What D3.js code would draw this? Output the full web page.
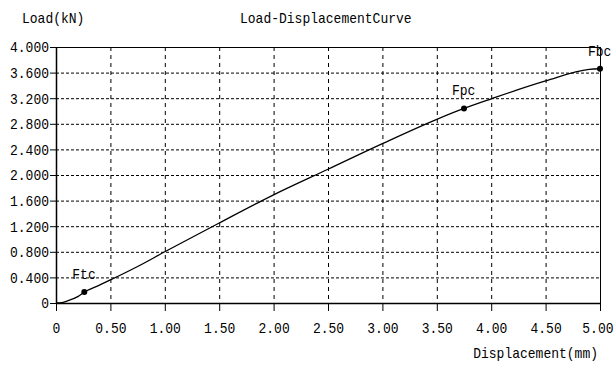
<!DOCTYPE html>
<html>
<head>
<meta charset="utf-8">
<script src="https://cdn.jsdelivr.net/npm/d3@7"></script>
<style>
  body { margin: 0; background: #fff; }
  text { font-family: 'Liberation Mono', 'DejaVu Sans Mono', monospace; fill: #000; }
</style>
</head>
<body>
<div class="chart"></div>
<script>
// values
const displacement = [0, 0.05, 0.1, 0.2, 0.26, 0.4, 0.5, 0.75, 1.0, 1.5, 2.0, 2.5, 3.0, 3.5, 3.75, 4.0, 4.5, 4.9, 5.0]
const load = [0, 0.005, 0.03, 0.1, 0.17, 0.28, 0.36, 0.57, 0.8, 1.25, 1.69, 2.09, 2.49, 2.87, 3.04, 3.19, 3.47, 3.65, 3.66]
const pointNames = ['Ftc', 'Fpc', 'Fbc']
const pointX = [0.26, 3.75, 5.0]
const pointY = [0.17, 3.04, 3.66]
const xTicks = [0, 0.5, 1, 1.5, 2, 2.5, 3, 3.5, 4, 4.5, 5]
const yTicks = [0, 0.4, 0.8, 1.2, 1.6, 2.0, 2.4, 2.8, 3.2, 3.6, 4.0]

const data = displacement.map((d, i) => ({distance: d, load: load[i]}))
const points = pointNames.map((n, i) => ({name: n, distance: pointX[i], load: pointY[i]}))

const W = 615
const H = 369
const margin = {top: 47, right: 15, bottom: 66, left: 56}
const width = W - margin.left - margin.right
const height = H - margin.top - margin.bottom
const charW = 7.8

// squeeze text so glyphs look like the narrow bitmap font
function squeeze(sel) {
  sel.each(function() {
    const t = d3.select(this)
    t.attr('textLength', t.text().length * charW).attr('lengthAdjust', 'spacingAndGlyphs')
  })
}

const x = d3.scaleLinear().domain([0, 5]).range([0, width])
const y = d3.scaleLinear().domain([0, 4]).range([height, 0])

const root = d3.select('.chart')
  .append('svg')
  .attr('width', W)
  .attr('height', H)

const svg = root.append('g')
  .attr('transform', 'translate(' + margin.left + ',' + margin.top + ')')

//dashed grid
svg.append('g')
  .selectAll('line')
  .data(yTicks.slice(1, -1))
  .enter()
  .append('line')
  .attr('x1', 0)
  .attr('x2', width)
  .attr('y1', d => y(d) + 0.5)
  .attr('y2', d => y(d) + 0.5)
  .style('stroke', '#000')
  .style('stroke-dasharray', '3,2')
svg.append('g')
  .selectAll('line')
  .data(xTicks.slice(1, -1))
  .enter()
  .append('line')
  .attr('x1', d => x(d) + 0.5)
  .attr('x2', d => x(d) + 0.5)
  .attr('y1', 0)
  .attr('y2', height)
  .style('stroke', '#000')
  .style('stroke-dasharray', '4,4')

// frame top / right
svg.append('line')
  .attr('x1', 0).attr('x2', width)
  .attr('y1', 0.5).attr('y2', 0.5)
  .style('stroke', '#000')
svg.append('line')
  .attr('x1', width + 0.5).attr('x2', width + 0.5)
  .attr('y1', 0).attr('y2', height + 8)
  .style('stroke', '#000')

const xAxis = svg.append('g')
  .attr('transform', 'translate(0,' + height + ')')
  .call(d3.axisBottom(x)
    .tickValues(xTicks)
    .tickSize(8)
    .tickPadding(11)
    .tickSizeOuter(0)
    .tickFormat(d => d === 0 ? '0' : d3.format('.2f')(d)))
xAxis.select('.domain').style('stroke', '#000').style('stroke-width', 1.5)
xAxis.selectAll('.tick line').style('stroke', '#000')
xAxis.selectAll('.tick text')
  .style('font-size', '15px')
  .call(squeeze)
// last label would run off the page edge
xAxis.selectAll('.tick text')
  .filter(d => d === 5)
  .attr('text-anchor', 'end')
  .attr('x', 13)

const yAxis = svg.append('g')
  .call(d3.axisLeft(y)
    .tickValues(yTicks)
    .tickSize(6)
    .tickPadding(1)
    .tickSizeOuter(0)
    .tickFormat(d => d === 0 ? '0' : d3.format('.3f')(d)))
yAxis.select('.domain').style('stroke', '#000').style('stroke-width', 1.5)
yAxis.selectAll('.tick line').style('stroke', '#000')
yAxis.selectAll('.tick text')
  .style('font-size', '15px')
  .call(squeeze)

const line = d3.line()
  .curve(d3.curveMonotoneX)
  .x(d => x(d.distance))
  .y(d => y(d.load))

svg.append('path')
  .datum(data)
  .attr('d', line)
  .style('fill', 'none')
  .style('stroke', '#000')
  .style('stroke-width', 1.3)

svg.selectAll('.dot')
  .data(points)
  .enter()
  .append('circle')
  .attr('class', 'dot')
  .attr('cx', d => x(d.distance))
  .attr('cy', d => y(d.load))
  .attr('r', 3)
  .style('fill', '#000')

svg.selectAll('.pt-label')
  .data(points)
  .enter()
  .append('text')
  .attr('class', 'pt-label')
  .attr('x', d => x(d.distance) - 12)
  .attr('y', d => y(d.load) - 13)
  .style('font-size', '15px')
  .text(d => d.name)
  .call(squeeze)

// titles
root.append('text')
  .attr('x', 22)
  .attr('y', 23)
  .style('font-size', '15px')
  .text('Load(kN)')
  .call(squeeze)
root.append('text')
  .attr('x', 240)
  .attr('y', 23)
  .style('font-size', '15px')
  .text('Load-DisplacementCurve')
  .call(squeeze)
root.append('text')
  .attr('x', 598)
  .attr('y', 358)
  .style('text-anchor', 'end')
  .style('font-size', '15px')
  .text('Displacement(mm)')
  .call(squeeze)
</script>
</body>
</html>
